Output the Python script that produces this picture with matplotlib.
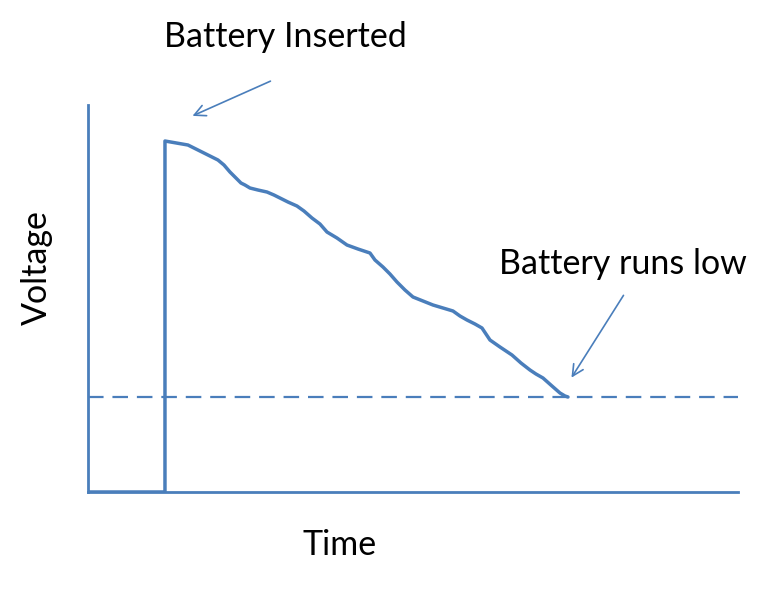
import numpy as np
import matplotlib
matplotlib.use("Agg")
from matplotlib import pyplot as plt

# voltage trace (arbitrary units)
time = [0, 77, 77, 100, 112, 122, 130, 136, 142, 149, 153, 157, 162, 170, 179,
        186, 192, 200, 209, 216, 224, 232, 239, 249, 259, 270, 282, 287, 295,
        302, 309, 317, 325, 335, 345, 355, 365, 372, 379, 387, 394, 398, 402,
        412, 424, 433, 442, 448, 455, 464, 472, 477, 480]
voltage = [0, 0, 351, 347, 341, 336, 332, 327, 320, 313, 309, 307, 304, 302,
           300, 297, 294, 290, 286, 281, 274, 268, 260, 254, 247, 243, 239,
           232, 225, 218, 210, 202, 195, 191, 187, 184, 181, 176, 172, 168,
           164, 158, 152, 145, 137, 129, 122, 118, 114, 106, 99, 96, 95]
low_level = 95

blue = '#4a7ebb'
plt.rcParams['font.family'] = ['Lato', 'DejaVu Sans']

fig = plt.figure(figsize=(7.73, 5.89), dpi=100)
ax = fig.add_axes([0.1138, 0.1647, 0.8409, 0.657])
ax.set_xlim(0, 650)
ax.set_ylim(0, 387)

ax.plot(time, voltage, color=blue, lw=2.5, solid_joinstyle='round',
        solid_capstyle='round')
ax.axhline(low_level, color=blue, lw=1.6, dashes=(7, 4))

for s in ['top', 'right']:
    ax.spines[s].set_visible(False)
for s in ['left', 'bottom']:
    ax.spines[s].set_color(blue)
    ax.spines[s].set_linewidth(2)
ax.set_xticks([])
ax.set_yticks([])

fig.text(340 / 773, 1 - 545 / 589, 'Time', fontsize=24.5, ha='center', va='center')
fig.text(37 / 773, 1 - 268 / 589, 'Voltage', fontsize=24.5, ha='center',
         va='center', rotation=90)

arrow = dict(arrowstyle='->,head_length=0.8,head_width=0.4', color=blue, lw=1.2)
ax.annotate('', xy=(time[2] + 25, voltage[2] + 24), xytext=(185, 412),
            arrowprops=arrow, annotation_clip=False)
ax.text(76, 455, 'Battery Inserted', fontsize=24.5, va='center', clip_on=False)
ax.annotate('', xy=(time[-1] + 2, low_level + 17), xytext=(537, 199),
            arrowprops=arrow)
ax.text(411, 228, 'Battery runs low', fontsize=24.5, va='center')

fig.savefig('out.png', dpi=100)
